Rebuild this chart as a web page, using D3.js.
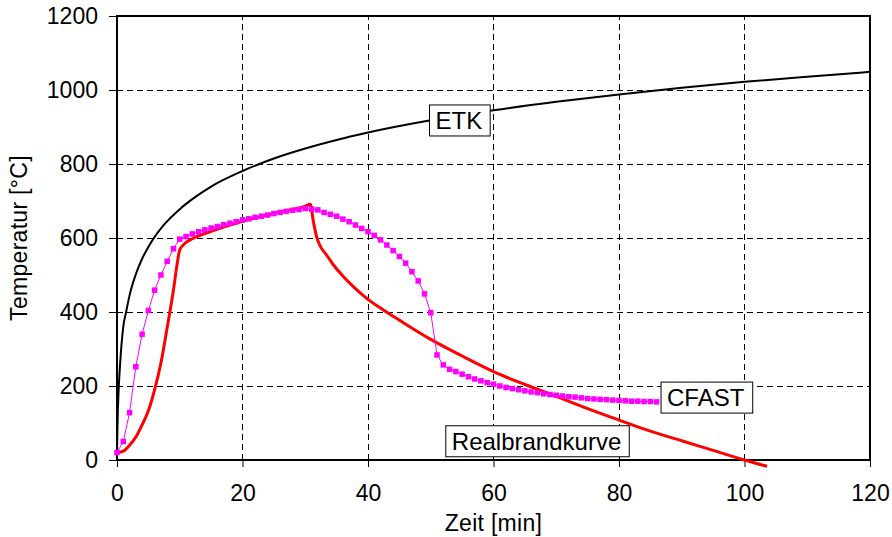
<!DOCTYPE html>
<html>
<head>
<meta charset="utf-8">
<script src="https://cdn.jsdelivr.net/npm/d3@7"></script>
<style>
  body { margin: 0; background: #fff; }
  text { font-family: "Liberation Sans", Arial, sans-serif; fill: #000; }
</style>
</head>
<body>
<div id="chart"></div>
<script>
// ETK (Einheits-Temperaturzeitkurve)
const etkT = [0, 0.1, 0.25, 0.5, 1, 1.5, 2, 3, 4, 5, 6, 7.5, 10, 12.5, 15, 20, 25, 30, 35, 40, 50, 60, 70, 80, 90, 100, 110, 120];
const etkV = [20, 108, 185, 261, 360, 404, 445, 502, 544, 576, 603, 636, 678, 711, 739, 781, 815, 842, 865, 885, 918, 945, 968, 988, 1006, 1022, 1036, 1049];

// Realbrandkurve
const realT = [0, 1, 2, 3, 4, 5, 6, 7, 8, 9, 9.5, 10, 10.5, 11, 12, 15, 20, 25, 30, 30.8, 31.3, 31.8, 32.3, 33.4, 34.5, 36.1, 37.7, 39.8, 42.5, 45, 50, 55, 60, 65, 70, 75, 80, 85, 90, 95, 100, 103.6];
const realV = [20, 24, 40, 62, 95, 133, 190, 262, 358, 460, 520, 568, 580, 588, 598, 618, 645, 667, 686, 691, 644, 604, 581, 554, 527, 495, 468, 437, 405, 378, 326, 281, 239, 204, 172, 139, 108, 78, 52, 26, 0, -17];

// CFAST (one value per minute)
const cfastV = [20, 50, 128, 252, 340, 404, 459, 500, 537, 571, 597, 604, 611, 617, 622, 627, 631, 636, 640, 644,
  649, 652, 656, 659, 662, 666, 669, 672, 675, 677, 680, 678, 676, 669, 664, 659, 651, 644, 635, 626,
  617, 607, 595, 581, 566, 550, 532, 509, 484, 449, 398, 284, 257, 245, 239, 232, 225, 219, 214, 209,
  205, 200, 196, 193, 190, 187, 184, 182, 179, 177, 175, 173, 171, 170, 168, 166, 165, 164, 163, 162,
  161, 160, 159, 159, 158, 158, 157];
const cfastT = cfastV.map((d, i) => i);

const xTicks = [0, 20, 40, 60, 80, 100, 120];
const yTicks = [0, 200, 400, 600, 800, 1000, 1200];

const labels = [
  {text: "ETK", t: 49.8, v: 919},
  {text: "CFAST", t: 86.7, v: 170},
  {text: "Realbrandkurve", t: 52.4, v: 52}
];

const width = 892, height = 537;
const margin = {top: 16, right: 22, bottom: 77, left: 117};

const x = d3.scaleLinear().domain([0, 120]).range([margin.left, width - margin.right]);
const y = d3.scaleLinear().domain([0, 1200]).range([height - margin.bottom, margin.top]);

const svg = d3.select("#chart").append("svg")
  .attr("width", width)
  .attr("height", height);

// grid
svg.append("g")
  .selectAll("line")
  .data(yTicks.slice(1, -1))
  .join("line")
  .attr("x1", x(0)).attr("x2", x(120))
  .attr("y1", d => y(d)).attr("y2", d => y(d))
  .attr("stroke", "#000").attr("stroke-width", 1)
  .attr("stroke-dasharray", "6,4")
  .attr("shape-rendering", "crispEdges");

svg.append("g")
  .selectAll("line")
  .data(xTicks.slice(1, -1))
  .join("line")
  .attr("x1", d => x(d)).attr("x2", d => x(d))
  .attr("y1", y(0)).attr("y2", y(1200))
  .attr("stroke", "#000").attr("stroke-width", 1)
  .attr("stroke-dasharray", "6,4")
  .attr("shape-rendering", "crispEdges");

// axes
const xAxis = svg.append("g")
  .attr("transform", `translate(0,${y(0)})`)
  .call(d3.axisBottom(x).tickValues(xTicks).tickFormat(d3.format("d")).tickSize(7).tickPadding(18));
const yAxis = svg.append("g")
  .attr("transform", `translate(${x(0)},0)`)
  .call(d3.axisLeft(y).tickValues(yTicks).tickFormat(d3.format("d")).tickSize(8).tickPadding(11));

[xAxis, yAxis].forEach(g => {
  g.select(".domain").remove();
  g.selectAll(".tick line").attr("stroke", "#000").attr("stroke-width", 1);
  g.selectAll(".tick text").attr("font-size", 23).attr("font-family", "Liberation Sans, Arial, sans-serif");
});

// frame
svg.append("rect")
  .attr("x", x(0)).attr("y", y(1200))
  .attr("width", x(120) - x(0)).attr("height", y(0) - y(1200))
  .attr("fill", "none").attr("stroke", "#000").attr("stroke-width", 2);

const line = d3.line().x(d => x(d[0])).y(d => y(d[1]));

svg.append("path")
  .datum(d3.zip(etkT, etkV))
  .attr("fill", "none").attr("stroke", "#000").attr("stroke-width", 2)
  .attr("d", line.curve(d3.curveMonotoneX));

svg.append("path")
  .datum(d3.zip(realT, realV))
  .attr("fill", "none").attr("stroke", "#ff0000").attr("stroke-width", 3)
  .attr("stroke-linejoin", "round")
  .attr("d", line.curve(d3.curveMonotoneX));

const cfast = d3.zip(cfastT, cfastV);
svg.append("path")
  .datum(cfast)
  .attr("fill", "none").attr("stroke", "#ff00ff").attr("stroke-width", 1)
  .attr("d", line.curve(d3.curveLinear));

svg.append("g")
  .selectAll("rect")
  .data(cfast)
  .join("rect")
  .attr("x", d => x(d[0]) - 2.75).attr("y", d => y(d[1]) - 2.75)
  .attr("width", 5.5).attr("height", 5.5)
  .attr("fill", "#ff00ff");

// labels in boxes
labels.forEach(l => {
  const g = svg.append("g");
  const txt = g.append("text")
    .attr("x", x(l.t) + 6).attr("y", y(l.v) + 9)
    .attr("font-size", 24)
    .text(l.text);
  const bb = txt.node().getBBox();
  g.insert("rect", "text")
    .attr("x", x(l.t)).attr("y", y(l.v) - 15)
    .attr("width", bb.width + 14).attr("height", 31)
    .attr("fill", "#fff").attr("stroke", "#000").attr("stroke-width", 1);
});

// axis titles
svg.append("text")
  .attr("x", (x(0) + x(120)) / 2).attr("y", 531)
  .attr("text-anchor", "middle").attr("font-size", 23)
  .attr("letter-spacing", 0.3)
  .text("Zeit [min]");

svg.append("text")
  .attr("transform", `translate(27,${(y(0) + y(1200)) / 2}) rotate(-90)`)
  .attr("text-anchor", "middle").attr("font-size", 23)
  .attr("letter-spacing", 0.3)
  .text("Temperatur [°C]");
</script>
</body>
</html>
